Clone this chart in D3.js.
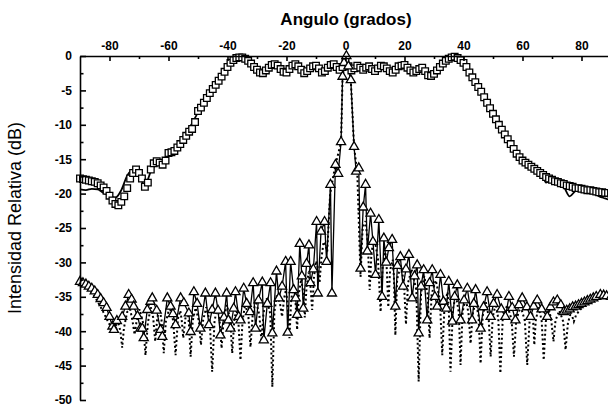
<!DOCTYPE html>
<html>
<head>
<meta charset="utf-8">
<script src="https://cdn.jsdelivr.net/npm/d3@7"></script>
<style>
  body { margin: 0; background: #fff; }
  svg { display: block; }
  .axis path, .axis line { stroke: #000; stroke-width: 1.6; }
  .axis text { font-family: "Liberation Sans", Arial, sans-serif; font-weight: bold; font-size: 12px; fill: #000; }
  .title { font-family: "Liberation Sans", Arial, sans-serif; font-weight: bold; font-size: 17px; }
  .ylabel { font-family: "Liberation Sans", Arial, sans-serif; font-size: 18px; }
</style>
</head>
<body>
<div id="chart"></div>
<script>

var width = 608, height = 408;

// tick labels
var xTicks = [-80, -60, -40, -20, 0, 20, 40, 60, 80],
    xMinor = [-70, -50, -30, -10, 10, 30, 50, 70],
    yTicks = [0, -5, -10, -15, -20, -25, -30, -35, -40, -45, -50],
    yMinor = [-2.5, -7.5, -12.5, -17.5, -22.5, -27.5, -32.5, -37.5, -42.5, -47.5];

// wide beam, squares (1 degree from -90 to 90)
var sqAngles = d3.range(-90, 91, 1);
var sqDb = [
  -17.8, -17.9, -18.0, -18.1, -18.2, -18.3, -18.5, -18.8, -19.1, -19.6,
  -20.3, -21.0, -21.5, -21.7, -21.2, -20.4, -19.2, -17.8, -17.0, -16.5,
  -17.0, -17.8, -19.0, -18.4, -16.5, -15.6, -15.3, -15.5, -15.8, -15.2,
  -14.1, -14.0, -13.8, -13.3, -12.8, -12.2, -11.6, -11.0, -10.6, -9.6,
  -8.0, -7.5, -6.8, -6.1, -5.4, -4.8, -4.2, -3.6, -3.0, -2.3,
  -1.6, -1.0, -0.6, -0.3, -0.2, -0.2, -0.4, -0.7, -1.1, -1.6,
  -2.0, -2.4, -2.5, -2.1, -1.7, -1.3, -1.2, -1.4, -1.9, -2.3,
  -2.4, -1.9, -1.4, -1.2, -1.5, -2.0, -2.5, -2.2, -1.8, -1.5,
  -1.4, -1.8, -2.4, -2.2, -1.7, -1.3, -1.2, -1.6, -2.0, -1.6,
  -0.8, -1.5, -2.1, -1.8, -1.4, -1.7, -2.0, -1.7, -1.5, -1.9,
  -2.2, -1.8, -1.4, -1.5, -1.8, -2.2, -2.4, -2.0, -1.5, -1.4,
  -1.3, -1.7, -2.1, -2.4, -2.2, -1.9, -1.7, -2.2, -2.8, -2.9,
  -2.6, -2.1, -1.6, -1.1, -0.7, -0.4, -0.2, -0.1, -0.3, -0.6,
  -1.0, -1.6, -2.4, -3.1, -3.8, -4.5, -5.2, -6.0, -6.8, -7.6,
  -8.4, -9.2, -10.0, -10.7, -11.4, -12.1, -12.8, -13.5, -14.2, -14.7,
  -15.2, -15.5, -15.8, -16.1, -16.4, -16.7, -17.0, -17.3, -17.6, -17.8,
  -18.0, -18.2, -18.3, -18.5, -18.6, -18.8, -18.9, -19.0, -19.2, -19.2,
  -19.3, -19.4, -19.5, -19.5, -19.6, -19.7, -19.8, -19.8, -19.9, -19.9, -20.0
];

// wide beam, solid curve (2 degrees from -90 to 90)
var lineAngles = d3.range(-90, 91, 2);
var lineDb = [
  -19.4, -19.5, -19.3, -19.4, -19.9, -20.3, -20.6, -19.5, -17.4, -16.6,
  -17.4, -18.8, -16.8, -15.6, -15.2, -14.6, -13.6, -12.4, -11.0, -9.8,
  -8.2, -6.9, -5.5, -4.2, -2.9, -1.7, -0.8, -0.3, -0.5, -1.3,
  -2.0, -2.1, -1.5, -1.3, -2.0, -2.1, -1.3, -1.6, -2.2, -1.8,
  -1.3, -2.0, -1.5, -1.2, -1.7, -0.6, -1.8, -1.3, -1.8, -1.5,
  -2.0, -1.4, -1.7, -2.2, -1.5, -1.3, -1.9, -2.1, -1.7, -2.6,
  -2.3, -1.4, -0.8, -0.2, -0.2, -1.0, -2.2, -3.6, -5.0, -6.6,
  -8.2, -9.8, -11.2, -12.6, -14.0, -15.0, -15.8, -16.6, -16.6, -18.4,
  -17.8, -18.2, -19.0, -20.4, -19.6, -19.4, -19.6, -20.0, -20.4, -20.7,
  -21.0
];

// narrow beam, triangles [angle, dB]
var triPts = [
  [-90,-32.8],[-89,-33.0],[-88,-33.2],[-87,-33.5],[-86,-33.8],[-85,-34.2],[-84,-34.7],[-83,-35.3],
  [-82,-35.9],[-81,-36.6],[-80,-37.9],[-79,-39.3],[-78.5,-39.8],[-77.5,-38.5],[-75.7,-37.9],[-74.6,-36.4],
  [-73.5,-34.7],[-72.5,-35.4],[-71.8,-36.4],[-70.5,-37.8],[-69.5,-39.6],[-68.9,-39.6],[-68.4,-41.0],[-67.2,-36.9],
  [-66.1,-35.7],[-65.5,-35.2],[-64.0,-37.0],[-62.7,-39.8],[-62.1,-40.8],[-60.4,-35.2],[-59.3,-36.4],[-58.5,-37.5],
  [-57.6,-39.1],[-55.9,-35.2],[-54.8,-35.9],[-53.1,-37.4],[-52.5,-40.1],[-51.4,-34.3],[-50.3,-36.0],[-49.2,-39.6],
  [-47.5,-34.5],[-46.3,-39.1],[-45.2,-36.9],[-44.1,-34.5],[-43.2,-37.0],[-42.4,-40.6],[-41.2,-38.0],[-40.3,-34.5],
  [-39.7,-38.4],[-39.0,-39.6],[-37.9,-36.7],[-37.3,-34.3],[-36.2,-37.9],[-35.6,-38.4],[-34.5,-33.8],[-33.5,-36.0],
  [-32.4,-37.2],[-31.3,-33.0],[-30.5,-39.6],[-29.5,-35.5],[-28.2,-32.9],[-27.7,-41.3],[-26.5,-36.0],[-25.4,-33.0],
  [-24.8,-40.3],[-23.4,-31.3],[-22.6,-35.2],[-21.5,-33.5],[-20.3,-29.9],[-19.6,-40.2],[-18.6,-29.9],[-17.6,-34.0],
  [-16.9,-35.2],[-16.4,-37.6],[-15.5,-27.3],[-14.8,-32.0],[-14.3,-36.7],[-13.2,-30.2],[-12.4,-27.5],[-11.9,-33.0],
  [-10.9,-31.0],[-9.8,-24.1],[-9.4,-34.5],[-8.3,-25.5],[-7.1,-24.1],[-6.4,-29.9],[-5.1,-18.7],[-4.6,-34.5],
  [-3.4,-15.8],[-2.5,-17.1],[-1.5,-12.5],[-1.0,-3.0],[-0.5,-1.0],[0.3,0],[1.0,-1.5],[1.8,-3.5],
  [2.9,-13.2],[3.6,-16.8],[4.5,-16.3],[5.1,-30.9],[6.0,-22.0],[6.8,-18.7],[7.4,-28.4],[8.5,-22.9],
  [9.3,-27.0],[10.2,-31.8],[11.3,-23.8],[12.4,-35.0],[13.0,-26.5],[13.8,-30.0],[14.7,-27.9],[15.8,-26.7],
  [16.9,-36.4],[17.6,-30.5],[18.6,-29.2],[19.5,-33.5],[20.5,-31.0],[21.5,-28.9],[22.6,-35.2],[23.4,-32.0],
  [24.3,-30.4],[24.8,-40.3],[25.6,-33.5],[26.5,-31.1],[27.7,-38.4],[28.5,-33.0],[29.4,-31.1],[30.3,-35.0],
  [31.1,-36.4],[32.2,-31.8],[33.2,-35.7],[34.2,-36.7],[35.0,-32.8],[36.2,-38.6],[37.0,-35.0],[37.9,-33.3],
  [39.0,-38.4],[40.2,-35.5],[41.3,-33.8],[42.9,-38.4],[43.5,-36.0],[44.1,-34.0],[45.8,-39.6],[46.8,-36.5],
  [48.0,-34.3],[49.2,-37.9],[50.2,-36.0],[51.4,-34.7],[52.8,-36.8],[54.2,-37.9],[55.4,-35.0],[56.5,-36.6],
  [57.6,-38.4],[58.8,-36.2],[59.9,-35.2],[61.5,-36.5],[62.7,-37.9],[63.8,-36.4],[65.0,-35.5],[66.5,-36.8],
  [68.4,-37.9],[69.5,-36.5],[70.5,-35.8],[71.8,-35.5],[73.0,-36.2],[74.0,-37.2],[75.0,-37.0],[76.0,-36.8],
  [77.0,-36.5],[78.0,-36.4],[79.0,-36.2],[80.0,-36.0],[81.0,-35.8],[82.0,-35.6],[83.0,-35.4],[84.0,-35.2],
  [85.0,-35.0],[86.4,-34.7],[87.5,-34.8],[88.5,-34.9],[90.0,-35.0]
];

// narrow beam, dotted curve [angle, dB]
var dotPts = [
  [-90,-33.0],[-89,-33.2],[-88,-33.5],[-87,-33.9],[-86,-34.4],[-85,-35.0],[-84,-35.7],[-83,-36.5],
  [-82,-37.3],[-81,-38.2],[-80,-39.0],[-79,-39.5],[-78,-39.2],[-77,-38.8],[-76.3,-40.0],[-75.7,-42.4],
  [-75.1,-39.5],[-74,-37.2],[-73,-36.8],[-72.2,-38.5],[-71.5,-40.5],[-70.8,-38.5],[-69.8,-36.8],[-68.6,-38.8],
  [-67.8,-43.5],[-67.0,-38.8],[-66.0,-36.5],[-65.2,-38.0],[-64.5,-41.5],[-63.8,-38.0],[-63.0,-36.8],[-62.3,-38.6],
  [-61.6,-43.2],[-60.9,-38.6],[-59.6,-36.5],[-58.4,-38.5],[-57.6,-43.5],[-56.8,-38.2],[-56.0,-37.0],[-55.5,-38.5],
  [-55.0,-41.0],[-54.3,-38.2],[-53.5,-37.0],[-53.1,-38.8],[-52.5,-43.7],[-51.8,-38.5],[-50.8,-36.6],[-49.7,-38.5],
  [-49.0,-42.0],[-48.3,-38.5],[-47.2,-36.5],[-46.0,-38.6],[-45.2,-45.9],[-44.4,-38.6],[-43.5,-36.4],[-42.7,-38.2],
  [-42.0,-42.5],[-41.3,-38.2],[-40.2,-36.2],[-39.1,-38.3],[-38.4,-43.2],[-37.7,-38.4],[-37.0,-36.8],[-36.3,-38.7],
  [-35.6,-44.2],[-34.9,-38.5],[-34.0,-36.0],[-32.9,-38.0],[-32.2,-42.3],[-31.5,-37.8],[-30.4,-35.6],[-29.2,-37.6],
  [-28.5,-41.5],[-27.8,-37.4],[-26.7,-35.2],[-25.5,-37.5],[-24.8,-48.1],[-24.1,-37.2],[-23.2,-34.6],[-22.2,-36.0],
  [-21.5,-37.9],[-20.8,-35.2],[-20.2,-34.0],[-19.6,-36.0],[-19.0,-41.0],[-18.4,-35.4],[-17.6,-33.2],[-17.0,-35.4],
  [-16.4,-39.8],[-15.8,-34.5],[-15.0,-32.4],[-14.4,-34.2],[-13.8,-38.0],[-13.2,-33.5],[-12.5,-31.5],[-11.9,-33.2],
  [-11.3,-36.9],[-10.7,-32.2],[-10.0,-29.8],[-9.4,-30.8],[-8.8,-33.0],[-8.2,-29.5],[-7.4,-27.0],[-6.8,-27.5],
  [-6.2,-28.4],[-5.2,-20.0],[-3.5,-16.0],[-1.5,-12.5],[-1.0,-3.0],[0.3,0],[1.8,-3.5],[2.9,-13.2],
  [4.0,-17.0],[5.1,-32.1],[5.8,-25.0],[6.8,-24.0],[7.6,-27.5],[8.2,-34.0],[8.8,-28.5],[9.8,-26.5],
  [11.0,-29.5],[11.9,-37.2],[12.6,-30.5],[13.5,-28.5],[14.0,-31.0],[14.5,-36.5],[15.1,-31.2],[16.0,-29.6],
  [16.4,-32.0],[16.9,-40.6],[17.5,-32.5],[18.7,-30.4],[19.8,-32.8],[20.5,-39.0],[21.2,-33.0],[22.4,-31.0],
  [24.0,-34.0],[24.8,-47.3],[25.6,-34.5],[26.7,-32.0],[27.8,-34.5],[28.5,-41.0],[29.2,-34.6],[30.6,-32.6],
  [32.0,-35.4],[32.8,-43.5],[33.6,-36.0],[34.6,-34.3],[35.0,-36.5],[35.6,-45.9],[36.4,-36.8],[37.4,-34.8],
  [38.4,-37.2],[39.0,-44.9],[39.7,-37.2],[40.7,-35.2],[41.7,-37.4],[42.4,-41.8],[43.1,-37.6],[44.1,-35.6],
  [45.1,-37.8],[45.8,-44.7],[46.5,-37.8],[47.6,-35.8],[48.5,-37.8],[49.2,-43.7],[49.9,-38.0],[50.9,-36.0],
  [51.8,-38.2],[52.5,-46.1],[53.3,-38.2],[54.8,-36.2],[56.3,-38.3],[57.1,-43.7],[57.9,-38.3],[59.4,-36.4],
  [60.8,-38.5],[61.6,-44.9],[62.4,-38.5],[63.2,-37.2],[63.6,-38.4],[64.0,-42.0],[64.5,-38.4],[65.5,-36.5],
  [66.5,-38.5],[67.2,-44.2],[67.9,-38.6],[69.0,-36.8],[69.8,-38.6],[70.5,-41.5],[71.2,-38.4],[72.5,-37.0],
  [73.8,-38.6],[74.6,-42.7],[75.4,-38.8],[76.2,-37.6],[76.9,-37.9],[77.4,-38.6],[78.2,-37.6],[79.5,-36.9],
  [81,-36.3],[82.5,-35.9],[84,-35.6],[85.5,-35.2],[87,-34.9],[88.5,-34.7],[90,-34.6]
];

var svg = d3.select("#chart").append("svg")
    .attr("width", width)
    .attr("height", height);

var x = d3.scaleLinear()
    .domain([-90, 90])
    .range([80, 611]);

var y = d3.scaleLinear()
    .domain([0, -50])
    .range([56, 400]);

var sq = sqAngles.map(function(a, i) { return [a, sqDb[i]]; });
var ln = lineAngles.map(function(a, i) { return [a, lineDb[i]]; });

var line = d3.line()
    .x(function(d) { return x(d[0]); })
    .y(function(d) { return y(d[1]); });

var smooth = d3.line()
    .curve(d3.curveMonotoneX)
    .x(function(d) { return x(d[0]); })
    .y(function(d) { return y(d[1]); });

var plot = svg.append("g");

// dotted curve
plot.append("path")
    .datum(dotPts)
    .attr("d", line)
    .attr("fill", "none")
    .attr("stroke", "#000")
    .attr("stroke-width", 2)
    .attr("stroke-dasharray", "2,2.6");

// triangle curve
plot.append("path")
    .datum(triPts)
    .attr("d", line)
    .attr("fill", "none")
    .attr("stroke", "#000")
    .attr("stroke-width", 1.3);

// wide beam solid curve
plot.append("path")
    .datum(ln)
    .attr("d", smooth)
    .attr("fill", "none")
    .attr("stroke", "#000")
    .attr("stroke-width", 1.8);

plot.selectAll(".sq")
    .data(sq)
  .enter().append("path")
    .attr("class", "sq")
    .attr("transform", function(d) { return "translate(" + x(d[0]) + "," + y(d[1]) + ")"; })
    .attr("d", d3.symbol().type(d3.symbolSquare).size(44))
    .attr("fill", "#fff")
    .attr("stroke", "#000")
    .attr("stroke-width", 1.3);

plot.selectAll(".tri")
    .data(triPts)
  .enter().append("path")
    .attr("class", "tri")
    .attr("transform", function(d) { return "translate(" + x(d[0]) + "," + y(d[1]) + ")"; })
    .attr("d", d3.symbol().type(d3.symbolTriangle).size(36))
    .attr("fill", "#fff")
    .attr("stroke", "#000")
    .attr("stroke-width", 1.3);

// axes
function dbLabel(d) { return d < 0 ? "-" + (-d) : d; }

var topAxis = svg.append("g")
    .attr("class", "axis")
    .attr("transform", "translate(0," + y(0) + ")")
    .call(d3.axisTop(x).tickValues(xTicks).tickSizeInner(-5).tickSizeOuter(0).tickPadding(6)
      .tickFormat(dbLabel));

svg.append("g")
    .attr("class", "axis")
    .attr("transform", "translate(0," + y(0) + ")")
    .call(d3.axisTop(x).tickValues(xMinor).tickSizeInner(-3).tickSizeOuter(0).tickFormat(""))
    .select(".domain").remove();

var leftAxis = svg.append("g")
    .attr("class", "axis")
    .attr("transform", "translate(" + x(-90) + ",0)")
    .call(d3.axisLeft(y).tickValues(yTicks).tickSizeInner(-6).tickSizeOuter(0).tickPadding(8)
      .tickFormat(dbLabel));

svg.append("g")
    .attr("class", "axis")
    .attr("transform", "translate(" + x(-90) + ",0)")
    .call(d3.axisLeft(y).tickValues(yMinor).tickSizeInner(-3.5).tickSizeOuter(0).tickFormat(""))
    .select(".domain").remove();

svg.append("text")
    .attr("class", "title")
    .attr("x", 346)
    .attr("y", 25)
    .attr("text-anchor", "middle")
    .text("Angulo (grados)");

svg.append("text")
    .attr("class", "ylabel")
    .attr("transform", "translate(21,218) rotate(-90)")
    .attr("text-anchor", "middle")
    .text("Intensidad Relativa (dB)");

</script>
</body>
</html>
